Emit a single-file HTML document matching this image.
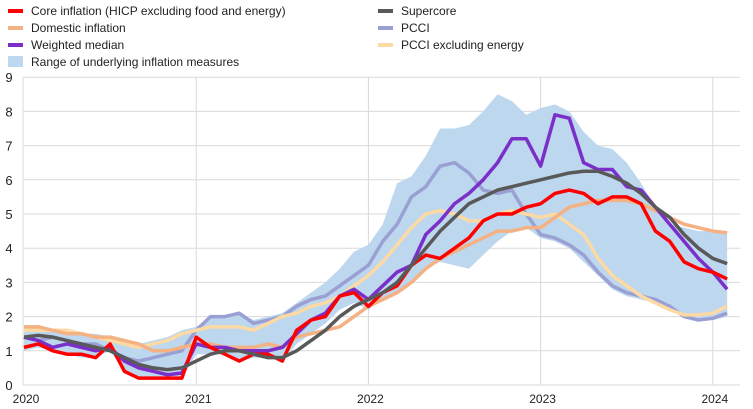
<!DOCTYPE html>
<html><head><meta charset="utf-8"><style>
body{margin:0;background:#fff;}
svg{display:block;font-family:"Liberation Sans",Arial,sans-serif;}
</style></head><body>
<svg id="s" width="753" height="409" xmlns="http://www.w3.org/2000/svg"></svg>
<script>
const s=document.getElementById('s');
const X0=24,PX=14.35,Y0=385,PY=34.2;
const xf=i=>X0+i*PX, yf=v=>Y0-v*PY;
let h='';
// grid
for(let v=1;v<=9;v++)h+=`<line x1="23" x2="740" y1="${yf(v)}" y2="${yf(v)}" stroke="#d9d9d9" stroke-width="1"/>`;
for(let k=1;k<=4;k++){const x=xf(12*k);h+=`<line x1="${x}" x2="${x}" y1="${yf(9)}" y2="${Y0}" stroke="#d9d9d9"/>`;}
h+=`<line x1="23" x2="23" y1="${yf(9)}" y2="${Y0}" stroke="#d9d9d9"/><line x1="23" x2="740" y1="${Y0}" y2="${Y0}" stroke="#d9d9d9"/>`;
for(let v=0;v<=9;v++)h+=`<text x="9" y="${yf(v)+5}" font-size="13" text-anchor="middle" fill="#222">${v}</text>`;
['2020','2021','2022','2023','2024'].forEach((t,k)=>h+=`<text x="${xf(12*k)+2}" y="403" font-size="12" text-anchor="middle" fill="#222">${t}</text>`);
const up=[1.7,1.7,1.6,1.6,1.5,1.5,1.4,1.3,1.2,1.3,1.4,1.6,1.7,2.0,2.0,2.1,1.9,2.0,2.1,2.4,2.7,3.0,3.4,3.9,4.1,4.7,5.9,6.1,6.7,7.5,7.5,7.6,8.0,8.5,8.3,7.9,8.1,8.2,8.0,7.4,7.0,6.9,6.5,5.9,5.2,4.7,4.6,4.5,4.5,4.45];
const lo=[1.0,1.1,1.0,0.9,0.8,0.8,1.0,0.4,0.2,0.2,0.2,0.2,0.9,0.9,0.9,0.7,0.8,0.8,0.7,1.2,1.5,1.8,2.2,2.4,2.2,2.5,2.7,3.0,3.4,3.6,3.5,3.4,3.8,4.2,4.5,4.6,4.3,4.2,4.0,3.6,3.2,2.8,2.6,2.5,2.4,2.2,2.0,1.9,1.9,2.0];
let p=up.map((v,i)=>`${xf(i)},${yf(v)}`).join(' ')+' '+lo.map((v,i)=>`${xf(i)},${yf(v)}`).reverse().join(' ');
h+=`<polygon points="${p}" fill="#bdd7ee"/>`;
const S={
pcci:['#9aa0d3',[1.4,1.3,1.4,1.3,1.2,1.2,1.0,0.8,0.7,0.8,0.9,1.0,1.6,2.0,2.0,2.1,1.8,1.9,2.0,2.3,2.5,2.6,2.9,3.2,3.5,4.2,4.7,5.5,5.8,6.4,6.5,6.2,5.7,5.6,5.7,5.0,4.4,4.3,4.1,3.8,3.3,2.9,2.7,2.6,2.5,2.3,2.0,1.9,1.95,2.1]],
pex:['#fdd9a4',[1.6,1.6,1.6,1.6,1.5,1.4,1.3,1.2,1.1,1.2,1.3,1.5,1.6,1.7,1.7,1.7,1.6,1.8,2.0,2.1,2.3,2.4,2.6,2.9,3.2,3.6,4.1,4.6,5.0,5.1,5.0,4.8,4.8,5.0,5.1,5.0,4.9,5.0,4.7,4.4,3.7,3.2,2.9,2.6,2.4,2.2,2.05,2.05,2.1,2.3]],
dom:['#f4b183',[1.7,1.7,1.6,1.5,1.5,1.4,1.4,1.3,1.2,1.0,1.0,1.1,1.2,1.2,1.1,1.1,1.1,1.2,1.1,1.4,1.5,1.6,1.7,2.0,2.3,2.5,2.7,3.0,3.4,3.7,3.9,4.1,4.3,4.5,4.5,4.6,4.6,4.9,5.2,5.3,5.4,5.4,5.4,5.3,5.1,4.9,4.7,4.6,4.5,4.45]],
med:['#7b2fc9',[1.4,1.3,1.1,1.2,1.1,1.0,1.1,0.7,0.5,0.4,0.3,0.35,1.2,1.1,1.1,1.0,1.0,1.0,1.1,1.5,1.9,2.1,2.6,2.8,2.5,2.9,3.3,3.5,4.4,4.8,5.3,5.6,6.0,6.5,7.2,7.2,6.4,7.9,7.8,6.5,6.3,6.3,5.8,5.7,5.2,4.7,4.2,3.7,3.3,2.8]],
core:['#ff0000',[1.1,1.2,1.0,0.9,0.9,0.8,1.2,0.4,0.2,0.2,0.2,0.2,1.4,1.1,0.9,0.7,0.9,0.9,0.7,1.6,1.9,2.0,2.6,2.7,2.3,2.7,2.9,3.5,3.8,3.7,4.0,4.3,4.8,5.0,5.0,5.2,5.3,5.6,5.7,5.6,5.3,5.5,5.5,5.3,4.5,4.2,3.6,3.4,3.3,3.1]],
sup:['#595959',[1.4,1.45,1.4,1.3,1.2,1.1,1.0,0.8,0.6,0.5,0.45,0.5,0.7,0.9,1.0,1.0,0.9,0.8,0.8,1.0,1.3,1.6,2.0,2.3,2.5,2.7,3.0,3.5,4.0,4.5,4.9,5.3,5.5,5.7,5.8,5.9,6.0,6.1,6.2,6.25,6.25,6.1,5.9,5.6,5.2,4.9,4.4,4.0,3.7,3.55]]};
for(const k in S){const [c,d]=S[k];h+=`<polyline fill="none" stroke="${c}" stroke-width="3.5" stroke-linejoin="round" points="${d.map((v,i)=>xf(i)+','+yf(v)).join(' ')}"/>`;}
// legend
const L=[[8,11,'#ff0000','Core inflation (HICP excluding food and energy)'],[8,28,'#f4b183','Domestic inflation'],[8,45,'#7b2fc9','Weighted median'],[378,11,'#595959','Supercore'],[378,28,'#9aa0d3','PCCI'],[378,45,'#fdd9a4','PCCI excluding energy']];
L.forEach(([x,y,c,t])=>{h+=`<rect x="${x}" y="${y-2}" width="15" height="4" fill="${c}"/><text x="${x+23}" y="${y+4}" font-size="12" fill="#222">${t}</text>`;});
h+=`<rect x="8" y="56" width="15" height="11" fill="#bdd7ee"/><text x="31" y="66" font-size="12" fill="#222">Range of underlying inflation measures</text>`;
s.innerHTML=h;
</script>
</body></html>
